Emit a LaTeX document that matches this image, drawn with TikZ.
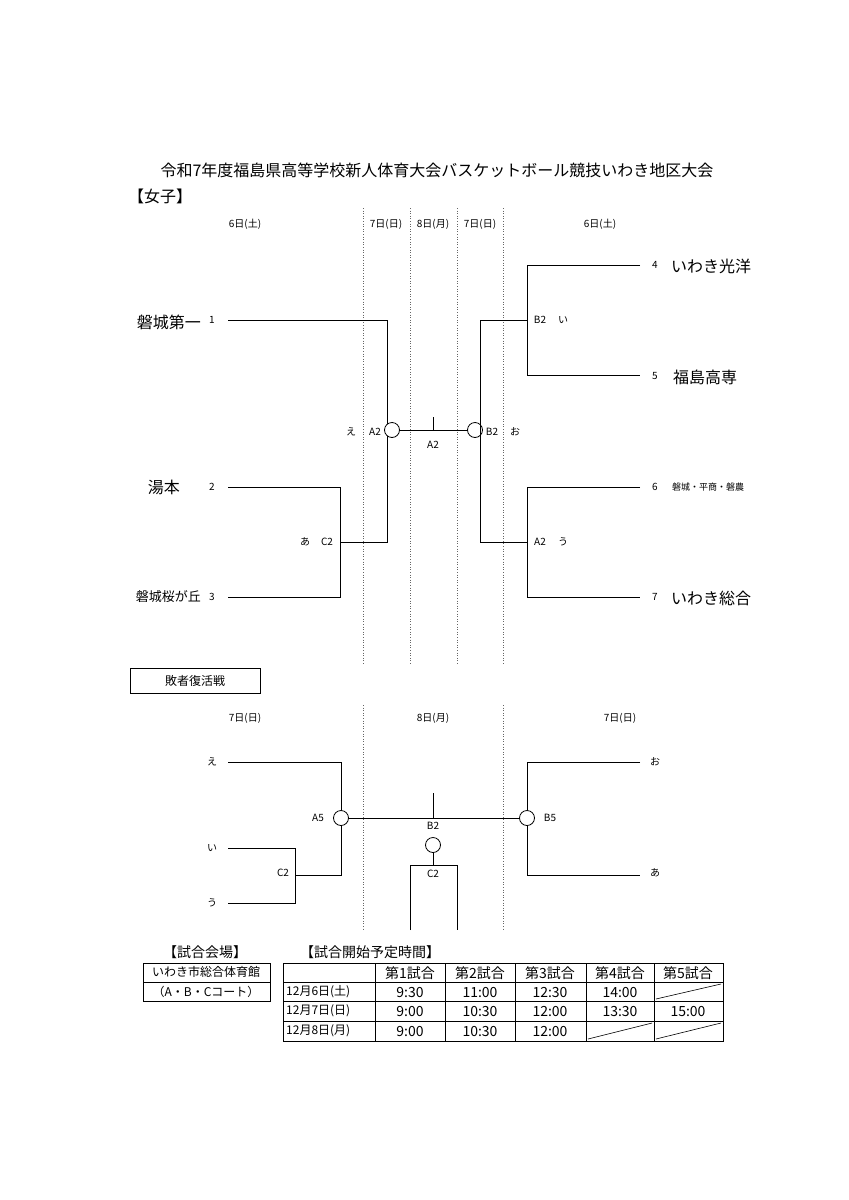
\documentclass[tikz,border=0pt]{standalone}
\usepackage{fontspec}
\setmainfont{Noto Sans CJK JP}
\begin{document}
\begin{tikzpicture}[x=1pt,y=-1pt,
  ln/.style={line width=0.9pt},
  dl/.style={dotted,line width=0.6pt,gray!80!black},
  circ/.style={circle,draw,line width=0.8pt,fill=white,minimum width=15pt,minimum height=15pt,inner sep=0pt},
  t/.style={inner sep=0pt,font=\fontsize{10}{11}\selectfont},
  big/.style={inner sep=0pt,font=\fontsize{16}{18}\selectfont},
  cell/.style={inner sep=0pt,font=\fontsize{14}{15}\selectfont}]
\useasboundingbox (0,0) rectangle (849,1200);
\node[big] (title) at (437,170) {令和7年度福島県高等学校新人体育大会バスケットボール競技いわき地区大会};
\node[big,anchor=west] (sex) at (128,196) {【女子】};
% dashed lines
\foreach \x/\n in {363/a,410/b,457/c,503/d}{\draw[dl] (\x,208) coordinate (t\n) -- (\x,665) coordinate (b\n);}
\node[t] (h1) at (245,224) {6日(土)};
\node[t] (h2) at (386,224) {7日(日)};
\node[t] (h3) at (433,224) {8日(月)};
\node[t] (h4) at (480,224) {7日(日)};
\node[t] (h5) at (600,224) {6日(土)};
% left teams
\node[big,anchor=east] (n1) at (201,322) {磐城第一};
\node[big,anchor=east] (n2) at (180,487) {湯本};
\node[t,font=\fontsize{13}{14}\selectfont,anchor=east] (n3) at (201,597) {磐城桜が丘};
\node[t] (k1) at (212,320) {1};
\node[t] (k2) at (212,487) {2};
\node[t] (k3) at (212,597) {3};
\draw[ln] (228,320) -- (387,320) -- (387,542) -- (340,542);
\draw[ln] (228,487) -- (340,487) -- (340,597) -- (228,597);
\node[t] (la) at (305,542) {あ};
\node[t] (lc2) at (327,542) {C2};
% final
\draw[ln] (392,430) -- (475,430);
\draw[ln] (433,417) -- (433,430);
\node[circ] (cl) at (392,430) {};
\node[circ] (cr) at (475,430) {};
\node[t] (fa2) at (433,445) {A2};
\node[t] (le) at (351,432) {え};
\node[t] (la2) at (375,432) {A2};
\node[t] (rb2) at (492,432) {B2};
\node[t] (ro) at (515,432) {お};
% right
\draw[ln] (527,320) -- (480,320) -- (480,542) -- (527,542);
\draw[ln] (640,265) -- (527,265) -- (527,375) -- (640,375);
\draw[ln] (640,487) -- (527,487) -- (527,597) -- (640,597);
\node[t] (rb2b) at (540,320) {B2};
\node[t] (ri) at (563,320) {い};
\node[t] (ra2) at (540,542) {A2};
\node[t] (ru) at (563,542) {う};
\node[t] (k4) at (655,265) {4};
\node[t] (k5) at (655,376) {5};
\node[t] (k6) at (655,487) {6};
\node[t] (k7) at (655,597) {7};
\node[big,anchor=west] (n4) at (671,266) {いわき光洋};
\node[big,anchor=west] (n5) at (673,377) {福島高専};
\node[t,font=\fontsize{9}{10}\selectfont,anchor=west] (n6) at (672,487) {磐城・平商・磐農};
\node[big,anchor=west] (n7) at (671,598) {いわき総合};
% losers
\node[draw,line width=0.8pt,minimum width=130pt,minimum height=25pt,inner sep=0pt,font=\fontsize{12}{13}\selectfont] (lb) at (195,681) {敗者復活戦};
\foreach \x/\n in {363/e,503/f}{\draw[dl] (\x,705) coordinate (u\n) -- (\x,930) coordinate (v\n);}
\node[t] (g1) at (245,718) {7日(日)};
\node[t] (g2) at (433,718) {8日(月)};
\node[t] (g3) at (620,718) {7日(日)};
\node[t] (le2) at (212,762) {え};
\node[t] (li2) at (212,848) {い};
\node[t] (lu2) at (212,903) {う};
\draw[ln] (228,762) -- (341,762) -- (341,875) -- (295,875);
\draw[ln] (228,848) -- (295,848) -- (295,903) -- (228,903);
\node[t] (lc22) at (283,873) {C2};
\draw[ln] (341,818) -- (527,818);
\draw[ln] (433,793) -- (433,818);
\node[circ] (c5) at (341,818) {};
\node[t] (a5) at (318,818) {A5};
\node[t] (b22) at (433,826) {B2};
\node[circ] (cm) at (433,845) {};
\draw[ln] (cm.south) -- (433,865);
\draw[ln] (410,930) -- (410,865) -- (457,865) -- (457,930);
\node[t] (c22) at (433,874) {C2};
\draw[ln] (640,762) -- (527,762) -- (527,875) -- (640,875);
\node[circ] (b5c) at (527,818) {};
\node[t] (b5) at (550,818) {B5};
\node[t] (ro2) at (655,762) {お};
\node[t] (ra22) at (655,873) {あ};
% venue
\node[cell] (vh) at (205,952) {【試合会場】};
\draw[line width=0.8pt] (143,963) rectangle (270,1001);
\draw[line width=0.8pt] (143,982) -- (270,982);
\node[t,font=\fontsize{12}{13}\selectfont] (v1) at (206,972) {いわき市総合体育館};
\node[t,font=\fontsize{12}{13}\selectfont] (v2) at (206,992) {（A・B・Cコート）};
% schedule
\node[cell] (sh) at (370,952) {【試合開始予定時間】};
\draw[line width=0.8pt] (283,963) rectangle (723,1041);
\foreach \y in {982,1001,1021}{\draw[line width=0.8pt] (283,\y) -- (723,\y);}
\foreach \x in {375,445,515,586,654}{\draw[line width=0.8pt] (\x,963) -- (\x,1041);}
\foreach \x/\s [count=\i] in {410/第1試合,480/第2試合,550/第3試合,620/第4試合,688/第5試合}{\node[cell] (hh\i) at (\x,973) {\s};}
\foreach \y/\d/\a/\b/\c [count=\i] in {992/12月6日(土)/9:30/11:00/12:30, 1011/12月7日(日)/9:00/10:30/12:00, 1031/12月8日(月)/9:00/10:30/12:00}{
  \node[t,font=\fontsize{12}{13}\selectfont,anchor=west] (d\i) at (286,\y) {\d};
  \node[cell] (ta\i) at (410,\y) {\a};
  \node[cell] (tb\i) at (480,\y) {\b};
  \node[cell] (tc\i) at (550,\y) {\c};}
\node[cell] (td1) at (620,992) {14:00};
\node[cell] (td2) at (620,1011) {13:30};
\node[cell] (te2) at (688,1011) {15:00};
\draw[line width=0.6pt] (656,999) -- (721,984);
\draw[line width=0.6pt] (588,1039) -- (652,1023);
\draw[line width=0.6pt] (656,1039) -- (721,1023);
\end{tikzpicture}
\end{document}
